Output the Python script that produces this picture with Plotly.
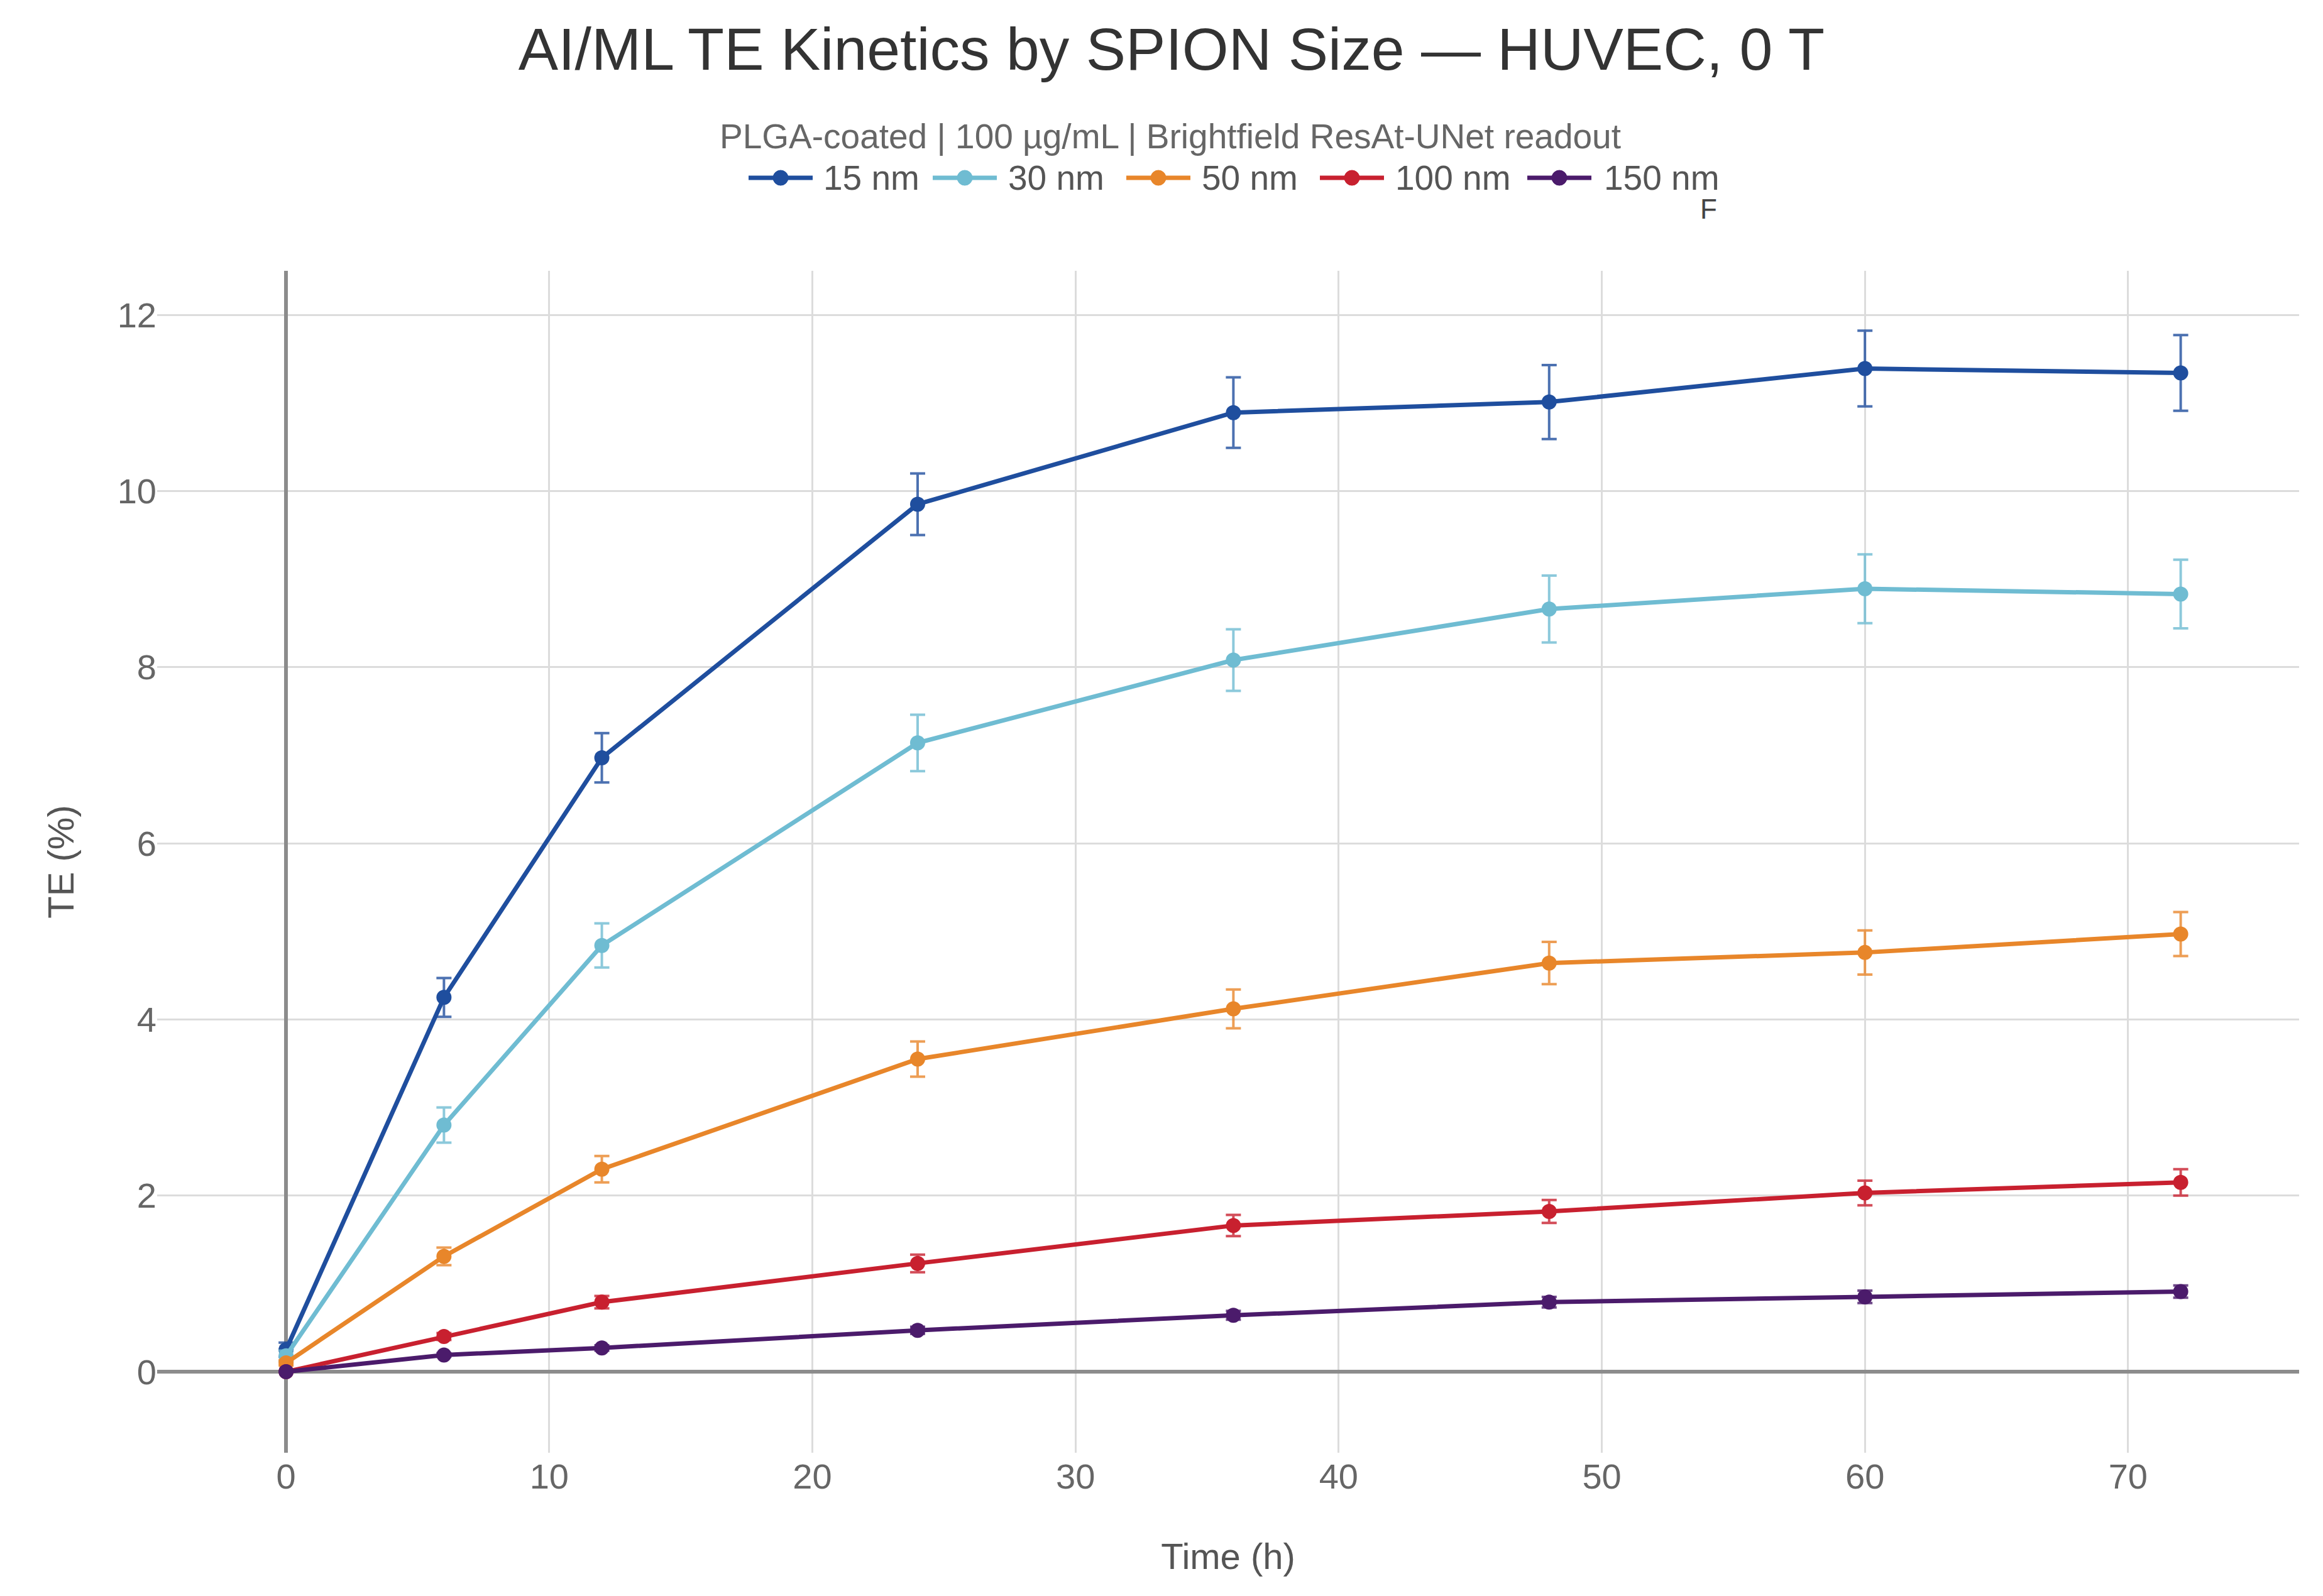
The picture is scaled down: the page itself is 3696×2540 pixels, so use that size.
import plotly.graph_objects as go

# ---- data ----
time_h = [0, 6, 12, 24, 36, 48, 60, 72]
series_names = ["15 nm", "30 nm", "50 nm", "100 nm", "150 nm"]
te_15 = [0.25, 4.25, 6.97, 9.85, 10.89, 11.01, 11.39, 11.34]
err_15 = [0.08, 0.22, 0.28, 0.35, 0.40, 0.42, 0.43, 0.43]
te_30 = [0.18, 2.80, 4.84, 7.14, 8.08, 8.66, 8.89, 8.83]
err_30 = [0.06, 0.20, 0.25, 0.32, 0.35, 0.38, 0.39, 0.39]
te_50 = [0.10, 1.31, 2.30, 3.55, 4.12, 4.64, 4.76, 4.97]
err_50 = [0.03, 0.10, 0.15, 0.20, 0.22, 0.24, 0.25, 0.25]
te_100 = [0.0, 0.40, 0.79, 1.23, 1.66, 1.82, 2.03, 2.15]
err_100 = [0.0, 0.04, 0.07, 0.10, 0.12, 0.13, 0.14, 0.15]
te_150 = [0.0, 0.19, 0.27, 0.47, 0.64, 0.79, 0.85, 0.91]
err_150 = [0.0, 0.02, 0.03, 0.04, 0.05, 0.06, 0.07, 0.07]
x_ticks = [0, 10, 20, 30, 40, 50, 60, 70]
y_ticks = [0, 2, 4, 6, 8, 10, 12]

colors = ["#1F4E9E", "#6FBCD2", "#E8862A", "#C8202F", "#4B1B6B"]
err_colors = ["rgba(31,78,158,0.8)", "rgba(111,188,210,0.8)", "rgba(232,134,42,0.8)",
              "rgba(200,32,47,0.8)", "rgba(75,27,107,0.8)"]
values = [te_15, te_30, te_50, te_100, te_150]
errors = [err_15, err_30, err_50, err_100, err_150]

W, H = 3696, 2540
ML, MR, MT, MB = 250, 38, 431, 228
PW, PH = W - ML - MR, H - MT - MB
FONT = "Liberation Sans, Arial, sans-serif"


def px_x(px):
    return (px - ML) / PW


def px_y(py):
    return 1 + (MT - py) / PH


fig = go.Figure()
for name, y, e, c, ec in zip(series_names, values, errors, colors, err_colors):
    fig.add_trace(go.Scatter(
        x=time_h, y=y, name=name, mode="lines+markers",
        line=dict(color=c, width=7),
        marker=dict(color=c, size=24, symbol="circle"),
        error_y=dict(type="data", array=e, visible=True, color=ec, thickness=4, width=12),
        showlegend=False,
    ))

# manual legend (layout decoration)
leg_sym_px = [1191, 1484, 1792, 2100, 2430]
leg_txt_px = [1308, 1602, 1910, 2218, 2550]
leg_y = px_y(283)
shapes = []
annotations = []
for name, c, sx, tx in zip(series_names, colors, leg_sym_px, leg_txt_px):
    cx = px_x(sx + 51)
    shapes.append(dict(type="line", xref="paper", yref="paper", xsizemode="pixel", ysizemode="pixel",
                       xanchor=cx, yanchor=leg_y, x0=-51, x1=51, y0=0, y1=0,
                       line=dict(color=c, width=7)))
    shapes.append(dict(type="circle", xref="paper", yref="paper", xsizemode="pixel", ysizemode="pixel",
                       xanchor=cx, yanchor=leg_y, x0=-12, x1=12, y0=-12, y1=12,
                       fillcolor=c, line=dict(color=c, width=1)))
    annotations.append(dict(text=name, xref="paper", yref="paper", x=px_x(tx), y=leg_y,
                            xanchor="left", yanchor="middle", showarrow=False,
                            font=dict(family=FONT, size=55, color="#555555")))

annotations.append(dict(text="PLGA-coated | 100 µg/mL | Brightfield ResAt-UNet readout",
                        xref="paper", yref="paper", x=px_x(1862), y=px_y(217),
                        xanchor="center", yanchor="middle", showarrow=False,
                        font=dict(family=FONT, size=55, color="#666666")))
annotations.append(dict(text="F", xref="paper", yref="paper", x=px_x(2718), y=px_y(332),
                        xanchor="center", yanchor="middle", showarrow=False,
                        font=dict(family=FONT, size=44, color="#444444")))

fig.update_layout(
    width=W, height=H,
    margin=dict(l=ML, r=MR, t=MT, b=MB),
    paper_bgcolor="white", plot_bgcolor="white",
    font=dict(family=FONT, color="#555555"),
    title=dict(text="AI/ML TE Kinetics by SPION Size — HUVEC, 0 T",
               x=1864 / W, xref="container", xanchor="center",
               y=1 - 78 / H, yref="container", yanchor="middle",
               font=dict(family=FONT, size=95, color="#333333")),
    shapes=shapes, annotations=annotations,
    xaxis=dict(range=[-4.9, 76.5], tickvals=x_ticks, showgrid=True, gridcolor="#dcdcdc", gridwidth=3,
               zeroline=True, zerolinecolor="#8c8c8c", zerolinewidth=6, showline=False, ticks="",
               tickfont=dict(family=FONT, size=56, color="#666666"),
               title=dict(text="Time (h)", font=dict(family=FONT, size=58, color="#555555"), standoff=76)),
    yaxis=dict(range=[-0.92, 12.5], tickvals=y_ticks, showgrid=True, gridcolor="#dcdcdc", gridwidth=3,
               zeroline=True, zerolinecolor="#8c8c8c", zerolinewidth=6, showline=False, ticks="",
               tickfont=dict(family=FONT, size=56, color="#666666"),
               title=dict(text="TE (%)", font=dict(family=FONT, size=58, color="#555555"), standoff=50)),
)

fig.write_html("out.html")
